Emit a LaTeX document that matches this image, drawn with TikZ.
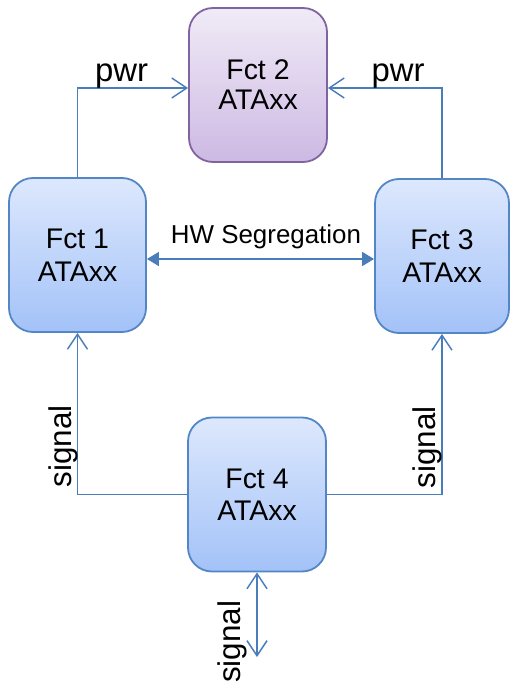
\documentclass[tikz,border=0pt]{standalone}
\usepackage{fontspec}
\setmainfont{Liberation Sans}
\usetikzlibrary{arrows.meta}

\definecolor{linkblue}{HTML}{4A7EBB}
\definecolor{boxedge}{HTML}{5386C4}
\definecolor{boxtop}{HTML}{DDE8FD}
\definecolor{boxbot}{HTML}{A3C2F8}
\definecolor{fctedge}{HTML}{8064A2}
\definecolor{fcttop}{HTML}{F0EBF7}
\definecolor{fctbot}{HTML}{CDB9E3}

\begin{document}
\begin{tikzpicture}[x=1bp,y=-1bp,
  fct/.style={draw=boxedge, line width=1.8bp, rounded corners=24bp,
    top color=boxtop, bottom color=boxbot,
    minimum width=137bp, minimum height=154bp, inner sep=0pt,
    align=center, font=\fontsize{28.5}{33}\selectfont},
  hifct/.style={fct, draw=fctedge, top color=fcttop, bottom color=fctbot},
  link/.style={draw=linkblue, line width=1.5bp},
  barb/.style={-{Straight Barb[length=15bp,width=20bp]}},
  barbs/.style={{Straight Barb[length=15bp,width=20bp]}-{Straight Barb[length=15bp,width=20bp]}},
  tris/.style={{Triangle[length=12bp,width=14bp]}-{Triangle[length=12bp,width=14bp]}},
  lbl/.style={inner sep=0pt, anchor=base, font=\fontsize{31.5}{38}\selectfont}
]
\useasboundingbox (0,0) rectangle (510,684);

% function blocks
\node[hifct, minimum width=138bp, font=\fontsize{28.5}{30}\selectfont] (f2) at (258,85) {Fct 2\\ATAxx};
\node[fct] (f1) at (77.5,255) {Fct 1\\ATAxx};
\node[fct, minimum width=134bp] (f3) at (442,256) {Fct 3\\ATAxx};
\node[fct, minimum width=138bp, font=\fontsize{28.5}{32}\selectfont] (f4) at (257,494.5) {Fct 4\\ATAxx};

% power feeds into Fct 2
\draw[link, barb] (f1.north) |- (f2.west |- 0,88);
\draw[link, barb] (f3.north) |- (f2.east |- 0,88);

% segregation between Fct 1 and Fct 3
\draw[link, tris] (f1.east |- 0,259) -- (f3.west |- 0,259);

% signals out of Fct 4
\draw[link, barb] (f4.west) -| (f1.south);
\draw[link, barb] (f4.east) -| (f3.south);
\coordinate (sigend) at (257,657);
\draw[link, barbs] (f4.south) -- (sigend);

% labels
\node[lbl, font=\fontsize{33}{40}\selectfont] (pwrl) at (121.5,82) {pwr};
\node[lbl, font=\fontsize{33}{40}\selectfont] (pwrr) at (398,82) {pwr};
\node[lbl, font=\fontsize{26}{31}\selectfont] (hw) at (266,243.3) {HW Segregation};
\node[lbl, rotate=90] (sigl) at (71.7,446.5) {signal};
\node[lbl, rotate=90] (sigr) at (435,447.5) {signal};
\node[lbl, rotate=90] (sigb) at (240.7,641.7) {signal};
\end{tikzpicture}
\end{document}
